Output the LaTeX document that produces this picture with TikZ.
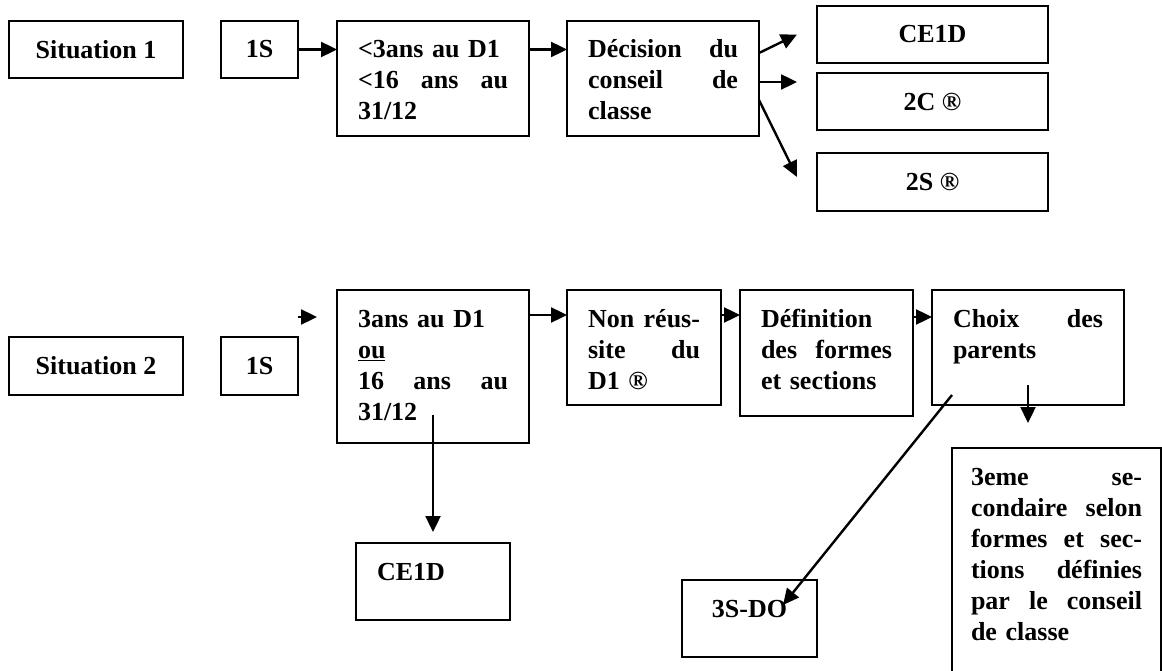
\documentclass[tikz,border=0pt]{standalone}
\usepackage{fontspec}
\setmainfont{Liberation Serif}
\usepackage{tikz}
\usetikzlibrary{calc,positioning,arrows.meta}
\tikzset{cbox/.style={draw,line width=1.8pt,inner sep=0pt,outer sep=0pt,anchor=north west,font=\fontsize{26}{31}\selectfont\bfseries}}
\tikzset{tbox/.style={cbox,align=left,inner xsep=21pt,inner ysep=0pt,text height=37pt}}
\tikzset{flow/.style={-{Triangle[length=16pt,width=15pt]},line width=2.4pt}}

\begin{document}
\begin{tikzpicture}[x=1pt,y=-1pt]
  \useasboundingbox (0,0) rectangle (1162,671);
  \clip (0,0) rectangle (1162,671);
  % situation 1
  \node[cbox,minimum width=174pt,minimum height=57pt] (sitA) at (9,21) {Situation 1};
  \node[cbox,minimum width=77pt,minimum height=57pt] (oneA) at (221,21) {1S};
  \node[tbox,text width=150pt,text depth=78pt] (ansA) at (337,21) {<3ans au D1\\<16\hfill ans\hfill au\\31/12};
  \node[tbox,text width=150pt,text depth=78pt] (decA) at (567,21) {Décision\hfill du\\conseil\hfill de\\classe};
  \node[cbox,minimum width=231pt,minimum height=57pt] (ceA) at (817,6) {CE1D};
  \node[cbox,minimum width=231pt,minimum height=57pt] (deuxC) at (817,73) {2C ®};
  \node[cbox,minimum width=231pt,minimum height=58pt] (deuxS) at (817,153) {2S ®};
  \draw[flow] (oneA.east) -- (ansA.west |- oneA.east);
  \draw[flow] (ansA.east |- oneA.east) -- (decA.west |- oneA.east);
  \draw[flow] ($(decA.north east)+(0,32)$) -- ($(ceA.west)+(-20,0)$);
  \draw[flow] ($(decA.north east)+(0,61)$) -- ($(deuxC.north west)+(-20,9)$);
  \draw[flow] ($(decA.north east)+(0,79)$) -- ($(deuxS.north west)+(-20,24)$);
  % situation 2
  \node[cbox,minimum width=174pt,minimum height=58pt] (sitB) at (9,337) {Situation 2};
  \node[cbox,minimum width=77pt,minimum height=58pt] (oneB) at (221,337) {1S};
  \node[tbox,text width=150pt,text depth=116pt] (ansB) at (337,290) {3ans au D1\\\underline{ou}\\16\hfill ans\hfill au\\31/12};
  \node[tbox,text width=112pt,text depth=78pt] (nonr) at (567,290) {Non\hfill réus-\\site\hfill du\\D1 ®};
  \node[tbox,text width=131pt,text depth=89pt] (defi) at (740,290) {Définition\\des\hfill formes\\et sections};
  \node[tbox,text width=150pt,text depth=78pt] (choix) at (932,290) {Choix\hfill des\\parents};
  \node[tbox,inner xsep=19pt,text width=171pt,text depth=223pt] (trois) at (952,448) {3eme\hfill se-\\condaire\hfill selon\\formes\hfill et\hfill sec-\\tions\hfill définies\\par\hfill le\hfill conseil\\de classe};
  \node[tbox,text width=112pt,text depth=40pt] (ceB) at (356,543) {CE1D};
  \node[tbox,align=center,text width=93pt,text depth=40pt] (dodo) at (682,580) {3S-DO};
  \draw[flow] ($(oneB.north east)+(0,-20)$) -- ($(ansB.north west)+(-20,27)$);
  \draw[flow] ($(ansB.north east)+(0,25)$) -- ($(nonr.north west)+(0,25)$);
  \draw[flow] ($(nonr.north east)+(0,25)$) -- ($(defi.north west)+(0,25)$);
  \draw[flow] ($(defi.north east)+(0,27)$) -- ($(choix.north west)+(0,27)$);
  \draw[flow] ($(choix.north west)+(96,95)$) -- ($(trois.north west)+(76,-25)$);
  \draw[flow] ($(choix.north west)+(20,105)$) -- ($(dodo.north west)+(101,25)$);
  \draw[flow] ($(ansB.north west)+(96,125)$) -- ($(ceB.north west)+(77,-11)$);
\end{tikzpicture}
\end{document}
